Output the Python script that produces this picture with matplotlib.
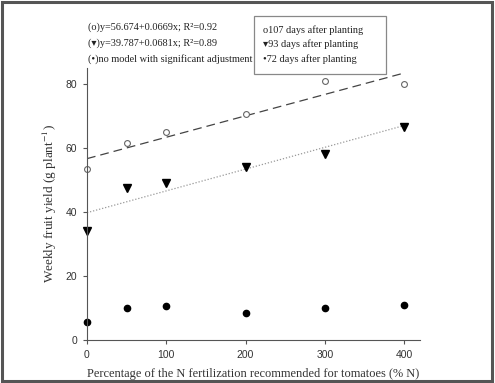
import matplotlib.pyplot as plt
from matplotlib.patches import Rectangle

# % of recommended N dose
n_dose = [0, 50, 100, 200, 300, 400]

# weekly fruit yield (g plant-1)
yield_107 = [53.5, 61.5, 65.0, 70.5, 81.0, 80.0]
yield_93 = [34.0, 47.5, 49.0, 54.0, 58.0, 66.5]
yield_72 = [5.5, 10.0, 10.5, 8.5, 10.0, 10.8]

# fitted models
fit_107 = (56.674, 0.0669)
fit_93 = (39.787, 0.0681)

serif = ["Liberation Serif", "DejaVu Serif", "DejaVu Sans"]
sans = "Liberation Sans"
plt.rcParams["mathtext.fontset"] = "stix"

fig = plt.figure(figsize=(4.95, 3.83), dpi=100)
ax = fig.add_axes([87 / 495, 1 - 340 / 383, (420 - 87) / 495, (340 - 68) / 383])

xs = [0, 400]
ax.plot(xs, [fit_107[0] + fit_107[1] * x for x in xs], color="#444444",
        lw=0.9, dashes=(7, 4))
ax.plot(xs, [fit_93[0] + fit_93[1] * x for x in xs], color="#999999",
        lw=0.9, ls=(0, (1, 1.5)))

ax.plot(n_dose, yield_107, "o", ms=4.2, mfc="white", mec="#666666", mew=0.8,
        clip_on=False)
ax.plot(n_dose, yield_93, "v", ms=5.5, color="black", clip_on=False)
ax.plot(n_dose, yield_72, "o", ms=4.5, color="black", clip_on=False)

ax.set_xlim(0, 420)
ax.set_ylim(0, 85)
ax.set_xticks(n_dose[:1] + n_dose[2:])
ax.set_yticks([0, 20, 40, 60, 80])
for s in ("top", "right"):
    ax.spines[s].set_visible(False)
for s in ("left", "bottom"):
    ax.spines[s].set_color("#555555")
    ax.spines[s].set_linewidth(0.8)
ax.tick_params(direction="out", length=3, width=0.8, color="#555555",
               labelsize=7.5, labelcolor="#333333", pad=4)
for lab in ax.get_xticklabels() + ax.get_yticklabels():
    lab.set_family(sans)

ax.set_xlabel("Percentage of the N fertilization recommended for tomatoes (% N)",
              family=serif, fontsize=8.9, color="#333333", labelpad=6)
ax.set_ylabel("Weekly fruit yield (g plant$^{-1}$)", family=serif,
              fontsize=9.5, color="#333333", labelpad=5)

eq_kw = dict(family=serif, fontsize=7.4, color="#222222", va="center")
fig.text(88 / 495, 1 - 27 / 383, "(o)y=56.674+0.0669x; R\u00b2=0.92", **eq_kw)
fig.text(88 / 495, 1 - 43 / 383, "(\u25be)y=39.787+0.0681x; R\u00b2=0.89", **eq_kw)
fig.text(88 / 495, 1 - 59 / 383, "(\u2022)no model with significant adjustment",
         **eq_kw)

# legend box
fig.add_artist(Rectangle((254 / 495, 1 - 74 / 383), (386 - 254) / 495,
                         (74 - 16) / 383, transform=fig.transFigure,
                         fill=False, ec="#888888", lw=0.9))
leg_kw = dict(family=serif, fontsize=7.4, color="#222222", va="center")
fig.text(263 / 495, 1 - 30 / 383, "o107 days after planting", **leg_kw)
fig.text(263 / 495, 1 - 44 / 383, "\u25be93 days after planting", **leg_kw)
fig.text(263 / 495, 1 - 59 / 383, "\u202272 days after planting", **leg_kw)

# outer frame
fig.add_artist(Rectangle((0.004, 0.005), 0.99, 0.99, transform=fig.transFigure,
                         fill=False, ec="#555555", lw=2.2))

fig.savefig("out.png", dpi=100)
